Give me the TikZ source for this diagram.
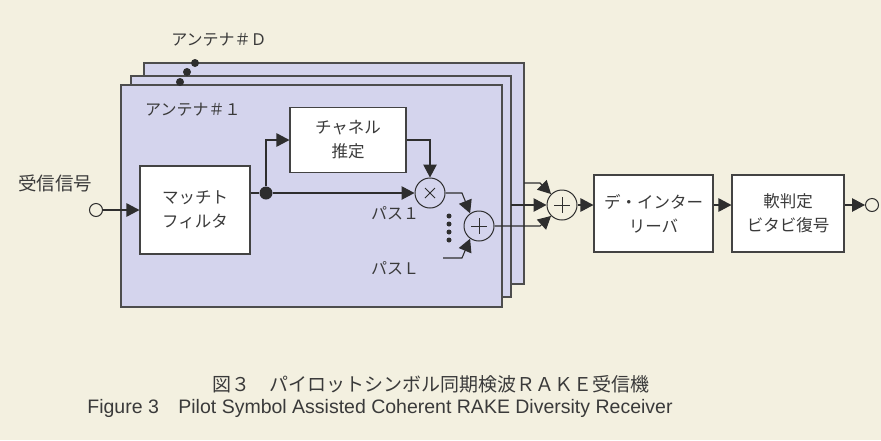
\documentclass[tikz,border=0pt]{standalone}
\usepackage{fontspec}
\setmainfont{Liberation Sans}
\newfontfamily\jp{Noto Sans CJK JP}
\usetikzlibrary{arrows.meta}
\definecolor{cream}{HTML}{F3F0E0}
\definecolor{lav}{HTML}{D4D4ED}
\definecolor{ink}{HTML}{2E2E2E}
\definecolor{txt}{HTML}{3A3A3A}
\begin{document}
\begin{tikzpicture}[x=1pt,y=-1pt,
  panel/.style={fill=lav,draw=ink!85,line width=1.2pt},
  blk/.style={draw=ink!90,fill=white,line width=1.1pt,align=center,
    font=\jp\fontsize{16.5}{24}\selectfont,inner sep=0pt,text=txt},
  op/.style={circle,draw=ink,line width=1pt,minimum size=30pt,inner sep=0pt},
  term/.style={circle,draw=ink,line width=1pt,minimum size=13pt,inner sep=0pt},
  lbl/.style={font=\jp\fontsize{16}{18}\selectfont,text=txt,inner sep=0pt},
  wire/.style={draw=ink,line width=1.1pt},
  arr/.style={wire,-{Triangle[length=13pt,width=13.5pt]}},
  dot/.style={circle,fill=ink,inner sep=0pt,minimum size=#1}
]
\fill[cream] (0,0) rectangle (881,440);
\useasboundingbox (0,0) rectangle (881,440);

% stacked antenna panels
\path[panel] (144,63) rectangle (524,284);
\path[panel] (131,76) rectangle (511,297);
\path[panel] (121,85) rectangle (502,307);
\node[dot=8pt] (d1) at (195,63) {};
\node[dot=8pt] (d2) at (187,72) {};
\node[dot=8pt] (d3) at (180,82) {};
\node[lbl,anchor=center] (antD) at (219,40) {アンテナ＃Ｄ};
\node[lbl,anchor=west] (ant1) at (145,110) {アンテナ＃１};

% blocks
\node[lbl,font=\jp\fontsize{18.5}{20}\selectfont] (rx) at (55,183) {受信信号};
\node[term] (in) at (96,210) {};
\node[blk,minimum width=110pt,minimum height=88pt] (mf) at (195,210) {マッチト\\フィルタ};
\node[blk,minimum width=116pt,minimum height=65pt] (ce) at (348,140) {チャネル\\推定};
\node[dot=13pt] (jn) at (266,193) {};
\node[op] (mul) at (430,193) {};
\node[op] (add1) at (479,226) {};
\node[op] (add2) at (562,205) {};
\node[blk,minimum width=119pt,minimum height=77pt] (di) at (653.5,213.5) {デ・インター\\リーバ};
\node[blk,minimum width=112pt,minimum height=77pt] (vd) at (788,213.5) {軟判定\\ビタビ復号};
\node[term] (out) at (872,205) {};

% operator symbols
\draw[wire,line width=0.9pt] ([shift={(-5,-5)}]mul.center) -- ([shift={(5,5)}]mul.center);
\draw[wire,line width=0.9pt] ([shift={(-5,5)}]mul.center) -- ([shift={(5,-5)}]mul.center);
\foreach \n in {add1,add2}{
  \draw[wire,line width=0.9pt] ([shift={(-8,0)}]\n.center) -- ([shift={(8,0)}]\n.center);
  \draw[wire,line width=0.9pt] ([shift={(0,-8)}]\n.center) -- ([shift={(0,8)}]\n.center);
}

% labels for paths
\node[lbl] (p1) at (395,213) {パス１};
\node[lbl] (pL) at (395,268) {パスＬ};
\foreach \yy in {216,224,232,240} \fill[ink] (449,\yy) circle (2.5);

% connectors
\draw[arr] (in) -- (mf);
\draw[wire] (mf.east |- jn) -- (jn);
\draw[arr] (jn) -- (mul);
\draw[arr] (jn) |- (ce.west);
\draw[arr] (ce.east) -| (mul.north);
\draw[arr] (mul.east) -- (462,193) -- (add1.125);
\coordinate (pLin) at (443,258);
\draw[arr] (pLin) -- (462,258) -- (add1.235);
\draw[arr] (add1.east) -- (540,226) -- (add2.225);
\draw[arr] (524,183) -- (540,183) -- (add2.135);
\draw[arr] (511,205) -- (add2.west);
\draw[arr] (add2.east) -- (di.west |- add2);
\draw[arr] (di.east |- add2) -- (vd.west |- add2);
\draw[arr] (vd.east |- out) -- (out.west);

% caption
\node[font=\jp\fontsize{19}{21}\selectfont,text=txt] (cap1) at (431,384) {図３　パイロットシンボル同期検波ＲＡＫＥ受信機};
\node[font=\fontsize{19.5}{21}\selectfont,text=txt] (cap2) at (380,408) {Figure 3\quad Pilot Symbol Assisted Coherent RAKE Diversity Receiver};
\end{tikzpicture}
\end{document}
